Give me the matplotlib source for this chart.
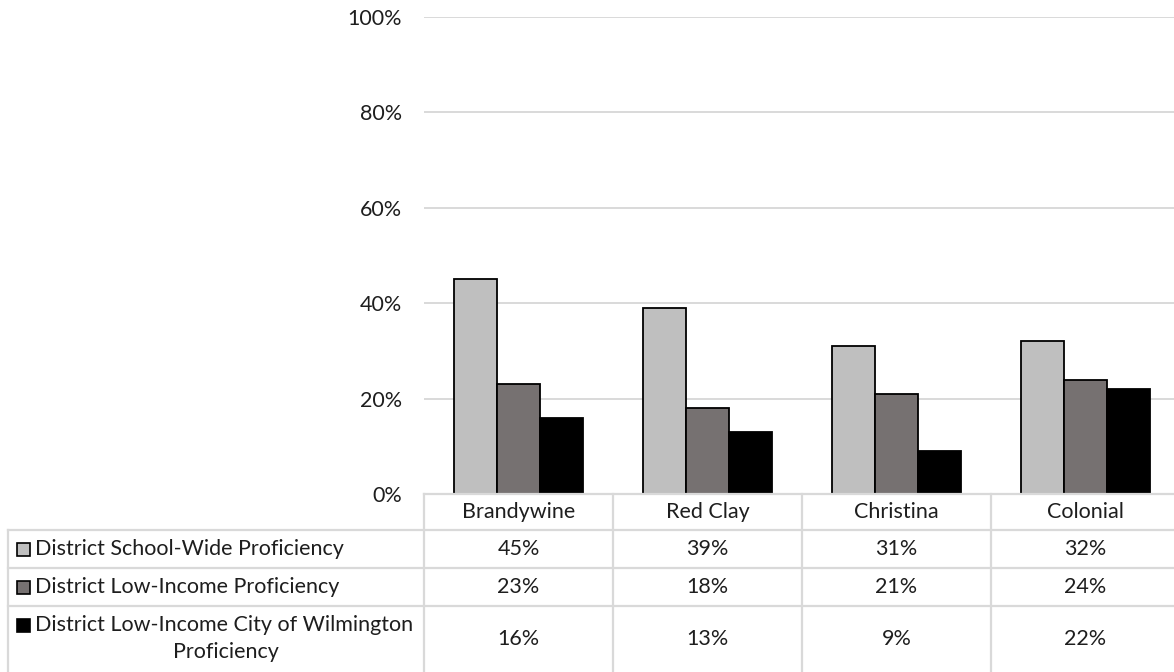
import matplotlib
matplotlib.use("Agg")
import matplotlib.pyplot as plt
from matplotlib.transforms import blended_transform_factory
from matplotlib.patches import Rectangle
import numpy as np

plt.rcParams['font.family'] = ['Lato', 'DejaVu Sans']

districts = ["Brandywine", "Red Clay", "Christina", "Colonial"]
series_names = [
    "District School-Wide Proficiency",
    "District Low-Income Proficiency",
    "District Low-Income City of Wilmington\nProficiency",
]
school_wide = [45, 39, 31, 32]
low_income = [23, 18, 21, 24]
low_income_wilm = [16, 13, 9, 22]
series_values = [school_wide, low_income, low_income_wilm]
series_colors = ["#bfbfbf", "#767171", "#000000"]
y_ticks = [0, 20, 40, 60, 80, 100]

W, H = 1174, 672
fig = plt.figure(figsize=(W / 100, H / 100), dpi=100)

def fy(y):
    return 1 - y / H

def fx(x):
    return x / W

# the plot area runs slightly past the right edge of the canvas
ax_left, ax_right, ax_top, ax_bottom = 424, 1180, 17, 494
ax = fig.add_axes([fx(ax_left), fy(ax_bottom), fx(ax_right - ax_left), (ax_bottom - ax_top) / H])

n = len(districts)
x = np.arange(n)
bar_w = 0.226
for i, (vals, col) in enumerate(zip(series_values, series_colors)):
    ax.bar(x + (i - 1) * bar_w, vals, width=bar_w, color=col,
           edgecolor="black", linewidth=1.3, zorder=3)

fs = 15.5
text_col = "#1e1e1e"

ax.set_xlim(-0.5, n - 0.5)
ax.set_ylim(0, 100)
ax.set_yticks(y_ticks)
ax.set_yticklabels([f"{t}%" for t in y_ticks], fontsize=fs, color=text_col)
ax.set_xticks([])
ax.tick_params(axis="y", length=0, pad=16)
ax.grid(axis="y", color="#d9d9d9", linewidth=1.4, zorder=0)
for s in ax.spines.values():
    s.set_visible(False)

# data table beneath the plot
grid_col = "#d9d9d9"
lw = 1.6
tr = blended_transform_factory(ax.transData, fig.transFigure)
row_edges = [494, 530, 568, 606, 672]
table_left = 8

# horizontal rules
fig.add_artist(plt.Line2D([fx(ax_left), fx(W)], [fy(494), fy(494)], color=grid_col, lw=lw))
for yy in row_edges[1:4]:
    fig.add_artist(plt.Line2D([fx(table_left), fx(W)], [fy(yy), fy(yy)], color=grid_col, lw=lw))

# vertical rules
fig.add_artist(plt.Line2D([fx(table_left), fx(table_left)], [fy(530), fy(672)], color=grid_col, lw=lw))
for b in np.arange(-0.5, n + 0.5, 1.0):
    fig.add_artist(plt.Line2D([b, b], [fy(494), fy(672)], color=grid_col, lw=lw, transform=tr))

# header row
for xi, name in zip(x, districts):
    fig.text(xi, fy((494 + 530) / 2), name, transform=tr, ha="center", va="center",
             fontsize=fs, color=text_col)

# value rows with legend keys
for r, (name, vals, col) in enumerate(zip(series_names, series_values, series_colors)):
    yc = fy((row_edges[r + 1] + row_edges[r + 2]) / 2)
    for xi, v in zip(x, vals):
        fig.text(xi, yc, f"{v}%", transform=tr, ha="center", va="center",
                 fontsize=fs, color=text_col)
    if "\n" in name:
        first, second = name.split("\n")
        y1 = fy(row_edges[r + 1] + 19)
        y2 = fy(row_edges[r + 1] + 46)
        fig.text(fx(35), y1, first, ha="left", va="center", fontsize=fs, color=text_col)
        fig.text(fx(226), y2, second, ha="center", va="center", fontsize=fs, color=text_col)
        ky = y1
    else:
        fig.text(fx(35), yc, name, ha="left", va="center", fontsize=fs, color=text_col)
        ky = yc
    sq = 13
    fig.add_artist(Rectangle((fx(17), ky - sq / 2 / H), sq / W, sq / H, transform=fig.transFigure,
                             facecolor=col, edgecolor="black", linewidth=1.2))

fig.savefig("out.png", dpi=100)
